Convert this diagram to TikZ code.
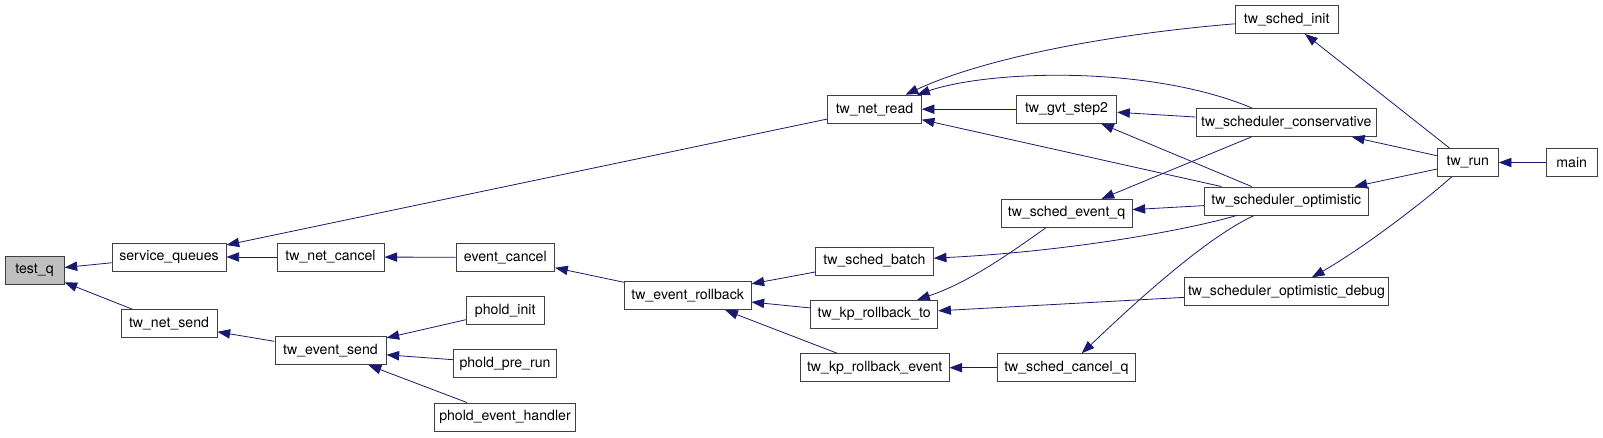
\documentclass[tikz,border=0pt]{standalone}
\usepackage{fontspec}
\setmainfont{TeX Gyre Heros}
\usepackage{xcolor}
\usetikzlibrary{arrows.meta}

\definecolor{edgeblue}{HTML}{191970}
\definecolor{boxgray}{HTML}{404040}
\definecolor{rootfill}{HTML}{BFBFBF}

\tikzset{
  fn/.style={draw=boxgray, line width=0.7pt, fill=white, minimum height=21pt,
    inner xsep=1pt, inner ysep=0pt, font=\fontsize{10.6}{12}\selectfont},
  call/.style={<-, draw=edgeblue, line width=0.6pt}
}

\begin{document}
\begin{tikzpicture}[x=0.75pt, y=-0.75pt,
    >={Triangle[length=9.5pt, width=7pt, fill=edgeblue]}]
    \useasboundingbox[fill=white] (0,0) rectangle (1603,437);

    % Funktionen
    \node[fn, fill=rootfill, minimum width=44.3pt] (testq) at (34.5,270.5) {test\_q};
    \node[fn, minimum width=85.5pt] (servq) at (169,257) {service\_queues};
    \node[fn, minimum width=72pt] (netsend) at (169,323.7) {tw\_net\_send};
    \node[fn, minimum width=80.3pt] (netcancel) at (330.5,257) {tw\_net\_cancel};
    \node[fn, minimum width=83.3pt] (eventsend) at (330.5,350.7) {tw\_event\_send};
    \node[fn, minimum width=74pt] (eventcancel) at (505.3,257.3) {event\_cancel};
    \node[fn, minimum width=58.3pt] (pholdinit) at (505.2,310.7) {phold\_init};
    \node[fn, minimum width=77.5pt] (pholdprerun) at (505,363.5) {phold\_pre\_run};
    \node[fn, minimum width=106pt] (pholdhandler) at (505,417) {phold\_event\_handler};
    \node[fn, minimum width=95pt] (rollback) at (687.7,295.7) {tw\_event\_rollback};
    \node[fn, minimum width=70.2pt] (netread) at (874.5,109.2) {tw\_net\_read};
    \node[fn, minimum width=88.2pt] (schedbatch) at (874.5,261) {tw\_sched\_batch};
    \node[fn, minimum width=95.3pt] (kprollbackto) at (874.2,314.3) {tw\_kp\_rollback\_to};
    \node[fn, minimum width=111.5pt] (kprollbackevent) at (874.7,367.7) {tw\_kp\_rollback\_event};
    \node[fn, minimum width=75.3pt] (gvtstep) at (1066.5,109.2) {tw\_gvt\_step2};
    \node[fn, minimum width=98.3pt] (schedeventq) at (1066.5,213.3) {tw\_sched\_event\_q};
    \node[fn, minimum width=103pt] (schedcancelq) at (1066.3,367.7) {tw\_sched\_cancel\_q};
    \node[fn, minimum width=77.5pt] (schedinit) at (1286.7,19.5) {tw\_sched\_init};
    \node[fn, minimum width=135.5pt] (schedcons) at (1286.3,122.5) {tw\_scheduler\_conservative};
    \node[fn, minimum width=122.5pt] (schedopt) at (1286.3,201) {tw\_scheduler\_optimistic};
    \node[fn, minimum width=153.3pt] (scheddebug) at (1286.5,291.8) {tw\_scheduler\_optimistic\_debug};
    \node[fn, minimum width=45.8pt] (twrun) at (1467.8,162.5) {tw\_run};
    \node[fn, minimum width=38pt] (mainfn) at (1571.7,162.5) {main};

    % Aufrufe (Pfeil zeigt auf die aufgerufene Funktion)
    \draw[call] (testq) -- (servq);
    \draw[call] (testq) -- (netsend);
    \draw[call] (servq) -- (netcancel);
    \draw[call] (servq) -- (netread);
    \draw[call] (netcancel) -- (eventcancel);
    \draw[call] (netsend) -- (eventsend);
    \draw[call] (eventsend) -- (pholdinit);
    \draw[call] (eventsend) -- (pholdprerun);
    \draw[call] (eventsend) -- (pholdhandler);
    \draw[call] (eventcancel) -- (rollback);
    \draw[call] (rollback) -- (schedbatch);
    \draw[call] (rollback) -- (kprollbackto);
    \draw[call] (rollback) -- (kprollbackevent);
    \draw[call] (netread) .. controls (980,60) and (1100,35) .. (schedinit);
    \draw[call] (netread) .. controls (990,70) and (1150,65) .. (schedcons);
    \draw[call] (netread) -- (gvtstep);
    \draw[call] (netread) -- (schedopt);
    \draw[call] (gvtstep) -- (schedcons);
    \draw[call] (gvtstep) -- (schedopt);
    \draw[call] (schedeventq) -- (schedcons);
    \draw[call] (schedeventq) -- (schedopt);
    \draw[call] (kprollbackto) .. controls (970,282) and (1010,253) .. (schedeventq);
    \draw[call] (schedbatch) .. controls (1060,252) and (1180,232) .. (schedopt);
    \draw[call] (kprollbackto) -- (scheddebug);
    \draw[call] (kprollbackevent) -- (schedcancelq);
    \draw[call] (schedcancelq) .. controls (1115,322) and (1200,240) .. (schedopt);
    \draw[call] (schedinit) -- (twrun);
    \draw[call] (schedcons) -- (twrun);
    \draw[call] (schedopt) -- (twrun);
    \draw[call] (scheddebug) .. controls (1360,250) and (1420,205) .. (twrun);
    \draw[call] (twrun) -- (mainfn);
\end{tikzpicture}
\end{document}
